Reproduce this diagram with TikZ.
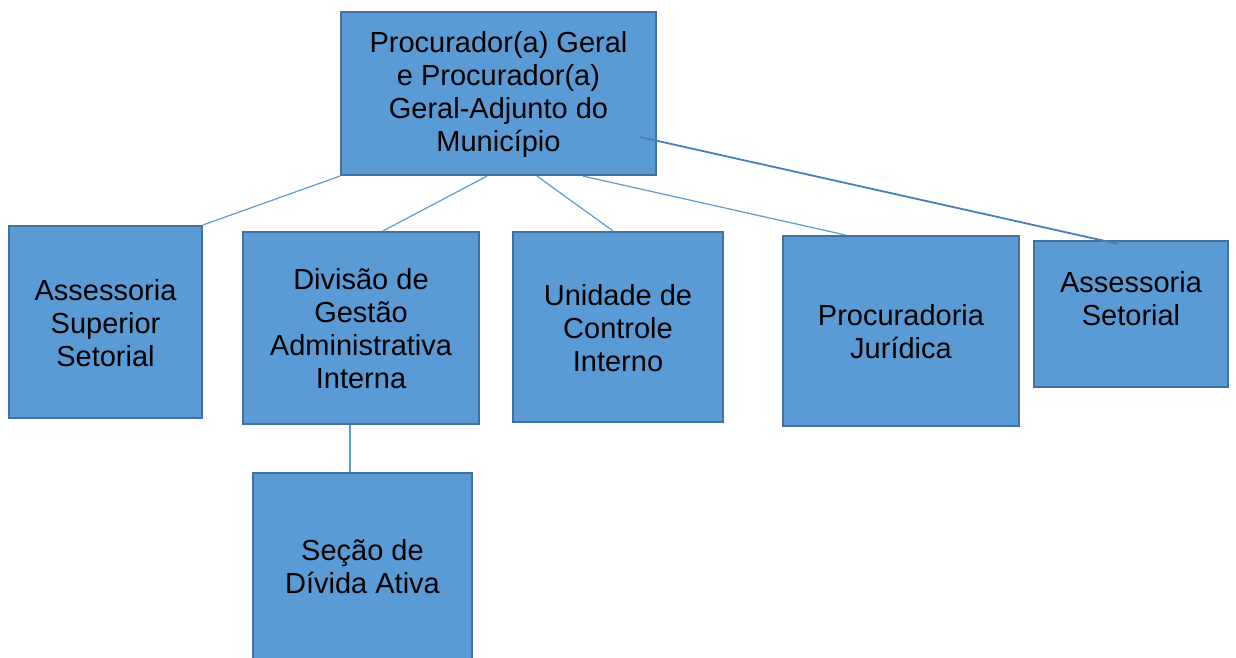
\documentclass[tikz,border=0pt]{standalone}
\usepackage{fontspec}
\setmainfont{Liberation Sans}
\usetikzlibrary{calc}
\definecolor{boxfill}{HTML}{5B9BD5}
\definecolor{boxline}{HTML}{41719C}
\definecolor{thinline}{HTML}{5B9BD5}
\definecolor{thickline}{HTML}{4A7EBB}
\tikzset{
  orgbox/.style={draw=boxline, fill=boxfill, line width=2.2pt, inner sep=0pt, rectangle},
  orgtext/.style={align=center, inner sep=0pt, font=\fontsize{29}{33}\selectfont, text=black},
  conn/.style={draw=thinline, line width=1.2pt},
  connthick/.style={draw=thickline, line width=1.8pt},
}
\begin{document}
\begin{tikzpicture}[x=1pt,y=-1pt]
\clip (0,0) rectangle (1236,657);
\fill[white] (0,0) rectangle (1236,657);
% connectors first (behind boxes)
\node[orgbox, minimum width=315pt, minimum height=163pt] (top) at (498.5,93.5) {};
\node[orgbox, minimum width=193pt, minimum height=192pt] (ass) at (105.5,322) {};
\node[orgbox, minimum width=236pt, minimum height=192pt] (div) at (361,328) {};
\node[orgbox, minimum width=210pt, minimum height=190pt] (uni) at (618,327) {};
\node[orgbox, minimum width=236pt, minimum height=190pt] (proc) at (901,331) {};
\node[orgbox, minimum width=194pt, minimum height=146pt] (set) at (1131,314) {};
\node[orgbox, minimum width=219pt, minimum height=190pt] (sec) at (362.5,568) {};
% connectors
\draw[conn] (top.south west) -- (ass.north east);
\draw[conn] ([xshift=-11.5pt]top.south) -- ([xshift=22pt]div.north);
\draw[conn] ([xshift=38.5pt]top.south) -- ([xshift=-5pt]uni.north);
\draw[conn] ([xshift=84.5pt]top.south) -- ([xshift=-56pt]proc.north);
\draw[connthick] ([xshift=141.5pt,yshift=-43.5pt]top.center) -- ([xshift=-13pt,yshift=-4pt]set.north);
\draw[conn] ([xshift=-11pt]div.south) -- ([xshift=-12.5pt]sec.north);
% texts
\node[orgtext] (ttop) at (498.5,94.5) {Procurador(a) Geral\\e Procurador(a)\\Geral-Adjunto do\\Município};
\node[orgtext] (tass) at (105.5,323) {Assessoria\\Superior\\Setorial};
\node[orgtext] (tdiv) at (361,329) {Divisão de\\Gestão\\Administrativa\\Interna};
\node[orgtext] (tuni) at (618,328) {Unidade de\\Controle\\Interno};
\node[orgtext] (tproc) at (901,331.5) {Procuradoria\\Jurídica};
\node[orgtext] (tset) at (1131,299) {Assessoria\\Setorial};
\node[orgtext] (tsec) at (362.5,566.5) {Seção de\\Dívida Ativa};
\end{tikzpicture}
\end{document}
